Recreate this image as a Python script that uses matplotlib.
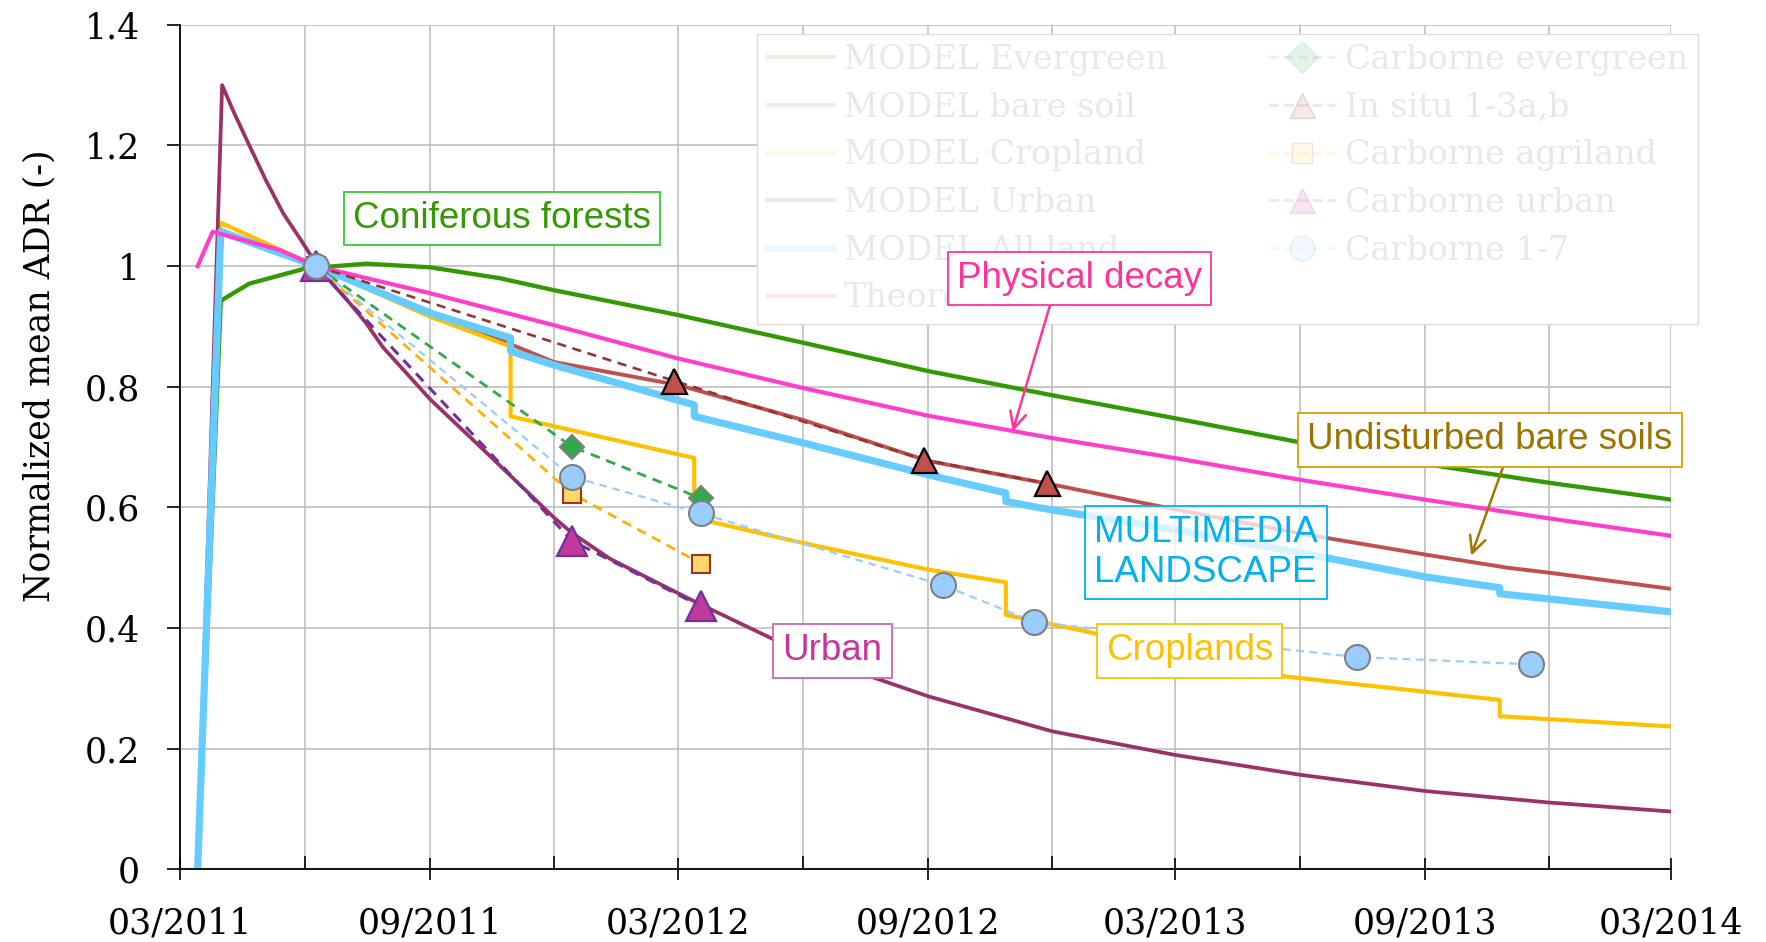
import numpy as np
import matplotlib
matplotlib.use('Agg')
import matplotlib.pyplot as plt
import matplotlib.dates as mdates
from matplotlib.lines import Line2D
from matplotlib.ticker import FuncFormatter

# ---- MODEL curves ----
theo_dates = ['2011-03-14', '2011-03-25', '2011-05-13', '2011-06-09', '2011-09-01', '2011-12-01',
              '2012-03-01', '2012-06-01', '2012-09-01', '2012-12-01', '2013-03-01', '2013-06-01',
              '2013-09-01', '2013-12-01', '2014-03-01']
theo_vals = [1.0, 1.057, 1.027, 1.0, 0.955, 0.902, 0.847, 0.798, 0.752, 0.715, 0.682, 0.646,
             0.613, 0.582, 0.553]

ever_dates = ['2011-03-14', '2011-03-31', '2011-04-01', '2011-04-21', '2011-06-01', '2011-07-16',
              '2011-09-01', '2011-10-22', '2011-12-01', '2012-03-01', '2012-06-01', '2012-09-01',
              '2012-12-01', '2013-03-01', '2013-06-01', '2013-09-01', '2013-12-01', '2014-03-01']
ever_vals = [0.0, 0.94, 0.944, 0.971, 0.996, 1.004, 0.998, 0.98, 0.96, 0.919, 0.873, 0.826,
             0.786, 0.748, 0.708, 0.672, 0.641, 0.613]

urban_dates = ['2011-03-14', '2011-04-01', '2011-04-09', '2011-04-21', '2011-05-03', '2011-05-16',
               '2011-05-29', '2011-06-09', '2011-06-21', '2011-07-04', '2011-07-16', '2011-07-28',
               '2011-09-01', '2011-10-08', '2011-11-14', '2011-12-01', '2011-12-14', '2012-01-11',
               '2012-03-01', '2012-03-17', '2012-06-01', '2012-09-01', '2012-12-01', '2013-03-01',
               '2013-06-01', '2013-09-01', '2013-12-01', '2014-03-01']
urban_vals = [0.0, 1.30, 1.258, 1.20, 1.143, 1.087, 1.043, 1.004, 0.971, 0.938, 0.905, 0.866,
              0.779, 0.70, 0.62, 0.583, 0.558, 0.515, 0.458, 0.44, 0.358, 0.287, 0.229, 0.19,
              0.157, 0.13, 0.111, 0.096]

bare_dates = ['2011-03-14', '2011-03-31', '2011-06-09', '2011-09-01', '2011-12-01', '2012-03-01',
              '2012-06-01', '2012-09-01', '2012-12-01', '2013-03-01', '2013-06-01', '2013-09-01',
              '2013-11-01', '2013-12-01', '2014-03-01']
bare_vals = [0.0, 1.06, 1.0, 0.925, 0.841, 0.803, 0.745, 0.677, 0.638, 0.597, 0.557, 0.522,
             0.5, 0.492, 0.465]

crop_dates = ['2011-03-14', '2011-03-31', '2011-06-09', '2011-09-01', '2011-10-30', '2011-10-30',
              '2012-03-13', '2012-03-13', '2012-03-18', '2012-06-01', '2012-09-01', '2012-10-28',
              '2012-10-28', '2012-12-23', '2013-05-21', '2013-10-26', '2013-10-26', '2014-03-01']
crop_vals = [0.0, 1.072, 1.0, 0.916, 0.867, 0.751, 0.682, 0.582, 0.58, 0.541, 0.497, 0.476,
             0.422, 0.396, 0.32, 0.281, 0.254, 0.237]

all_dates = ['2011-03-14', '2011-03-31', '2011-06-09', '2011-09-01', '2011-10-30', '2011-10-30',
             '2011-12-01', '2012-03-13', '2012-03-13', '2012-06-01', '2012-09-01', '2012-10-28',
             '2012-10-28', '2012-11-23', '2013-03-01', '2013-06-01', '2013-09-01', '2013-10-26',
             '2013-10-26', '2014-03-01']
all_vals = [0.0, 1.057, 1.0, 0.922, 0.881, 0.859, 0.836, 0.770, 0.751, 0.707, 0.654, 0.624,
            0.61, 0.599, 0.563, 0.525, 0.485, 0.467, 0.457, 0.427]

# ---- measurements ----
cb_dates = ['2011-06-09', '2011-12-14', '2012-03-18']
cb_ever_vals = [1.0, 0.701, 0.615]
cb_agri_vals = [1.0, 0.623, 0.507]
cb_urban_vals = [1.0, 0.545, 0.436]

insitu_dates = ['2011-06-09', '2012-02-27', '2012-08-29', '2012-11-27']
insitu_vals = [1.0, 0.81, 0.679, 0.64]

cb17_dates = ['2011-06-09', '2011-12-14', '2012-03-18', '2012-09-12', '2012-11-18',
              '2013-07-13', '2013-11-18']
cb17_vals = [1.0, 0.651, 0.59, 0.471, 0.41, 0.352, 0.34]


def dt(lst):
    return np.array(lst, dtype='datetime64[D]')


plt.rcParams['font.family'] = 'DejaVu Serif'

fig = plt.figure(figsize=(17.66, 9.42), dpi=100)
ax = fig.add_axes([0.1019, 0.0770, 0.8444, 0.8967])

ax.plot(dt(ever_dates), ever_vals, color='#339900', lw=3.1, zorder=3)
ax.plot(dt(bare_dates), bare_vals, color='#C0504D', lw=2.8, zorder=3)
ax.plot(dt(crop_dates), crop_vals, color='#FFC000', lw=3.0, zorder=3)
ax.plot(dt(urban_dates), urban_vals, color='#993366', lw=2.7, zorder=3)
ax.plot(dt(all_dates), all_vals, color='#66CCFF', lw=5.2, zorder=4)
ax.plot(dt(theo_dates), theo_vals, color='#FF3FCC', lw=3.0, zorder=4)

dash = (3.5, 2.5)
ax.plot(dt(cb_dates), cb_ever_vals, color='#2EAA48', lw=2, ls='--', dashes=dash,
        marker='D', ms=12.5, mfc='#2EAA48', mec='#7F7F7F', mew=1.5, zorder=5)
ax.plot(dt(insitu_dates), insitu_vals, color='#943634', lw=1.9, ls='--', dashes=dash,
        marker='^', ms=18, mfc='#C0504D', mec='black', mew=1.6, zorder=5)
ax.plot(dt(cb_dates), cb_agri_vals, color='#FFB000', lw=2, ls='--', dashes=dash,
        marker='s', ms=13, mfc='#FFD966', mec='#A0302A', mew=1.5, zorder=5)
ax.plot(dt(cb_dates), cb_urban_vals, color='#7030A0', lw=2.2, ls='--', dashes=dash,
        marker='^', ms=21, mfc='#C0399B', mec='#7030A0', mew=1.6, zorder=5)
ax.plot(dt(cb17_dates), cb17_vals, color='#99CCFF', lw=1.6, ls='--', dashes=dash,
        marker='o', ms=18, mfc='#99CCFF', mec='#7F7F7F', mew=1.5, zorder=6)

# axes
ax.set_xlim(np.datetime64('2011-03-01'), np.datetime64('2014-03-01'))
ax.set_ylim(0, 1.4)
ax.xaxis.set_major_locator(mdates.MonthLocator(bymonth=[3, 9]))
ax.xaxis.set_minor_locator(mdates.MonthLocator(bymonth=[6, 12]))
ax.xaxis.set_major_formatter(mdates.DateFormatter('%m/%Y'))
ax.set_yticks(np.arange(0, 1.41, 0.2))
ax.yaxis.set_major_formatter(FuncFormatter(lambda v, p: '{:g}'.format(round(v, 1))))

ax.grid(which='major', color='#BFBFBF', lw=1.2)
ax.grid(which='minor', axis='x', color='#BFBFBF', lw=1.2)
ax.set_axisbelow(True)
for s in ['top', 'right']:
    ax.spines[s].set_visible(False)
for s in ['left', 'bottom']:
    ax.spines[s].set_linewidth(1.3)
    ax.spines[s].set_zorder(7)

ax.tick_params(axis='y', direction='out', length=9.5, width=1.2, labelsize=25, pad=19)
ax.tick_params(axis='x', which='major', direction='inout', length=16, width=1.2,
               labelsize=25, pad=19)
ax.tick_params(axis='x', which='minor', direction='in', length=9.5, width=1.2)
ax.set_ylabel('Normalized mean ADR (-)', fontsize=25)
ax.yaxis.set_label_coords(-0.083, 0.585)

# faded legend
fade = 0.12
handles = [
    Line2D([], [], color='#339900', lw=2.9, alpha=fade),
    Line2D([], [], color='#C0504D', lw=2.9, alpha=fade),
    Line2D([], [], color='#FFC000', lw=2.9, alpha=fade),
    Line2D([], [], color='#993366', lw=2.9, alpha=fade),
    Line2D([], [], color='#66CCFF', lw=5, alpha=fade),
    Line2D([], [], color='#FF3FCC', lw=2.9, alpha=fade),
    Line2D([], [], color='#2EAA48', lw=2, ls='--', marker='D', ms=16, mfc='#2EAA48',
           mec='#7F7F7F', alpha=fade),
    Line2D([], [], color='#943634', lw=2, ls='--', marker='^', ms=18, mfc='#C0504D',
           mec='black', alpha=fade),
    Line2D([], [], color='#FFB000', lw=2, ls='--', marker='s', ms=14, mfc='#FFD966',
           mec='#A0302A', alpha=fade),
    Line2D([], [], color='#7030A0', lw=2, ls='--', marker='^', ms=18, mfc='#C0399B',
           mec='#7030A0', alpha=fade),
    Line2D([], [], color='#99CCFF', lw=2, ls='--', marker='o', ms=18, mfc='#99CCFF',
           mec='#7F7F7F', alpha=fade),
]
labels = ['MODEL Evergreen', 'MODEL bare soil', 'MODEL Cropland', 'MODEL Urban',
          'MODEL All land', 'Theoretical', 'Carborne evergreen', 'In situ 1-3a,b',
          'Carborne agriland', 'Carborne urban', 'Carborne 1-7']
leg = ax.legend(handles, labels, ncol=2, loc='upper left',
                bbox_to_anchor=(0.387, 0.647, 0.631, 0.342), mode='expand', borderaxespad=0,
                fontsize=24, labelspacing=0.47, borderpad=0.3, handlelength=2.0,
                handletextpad=0.3, columnspacing=1.5, fancybox=False, framealpha=1,
                edgecolor='#DDDDDD', numpoints=1)
leg.set_zorder(8)
for t in leg.get_texts():
    t.set_color('#E8E8E8')

# annotation boxes
box_font = 'Liberation Sans'
fs = 26.5


def box(ec, fc='white', alpha=1.0):
    return dict(boxstyle='square,pad=0.25', fc=fc, ec=ec, lw=1.3, alpha=alpha)


ax.text(0.216, 0.7707, 'Coniferous forests', transform=ax.transAxes, ha='center', va='center',
        family=box_font, fontsize=fs, color='#339900', bbox=box('#33CC33'), zorder=9)

ax.annotate('Physical decay', xy=(np.datetime64('2012-11-02'), 0.726),
            xytext=(0.6033, 0.6993), textcoords='axes fraction', ha='center', va='center',
            family=box_font, fontsize=fs, color='#FF3399', bbox=box('#FF3399'), zorder=9,
            arrowprops=dict(arrowstyle='->,head_length=0.45,head_width=0.22', color='#FF3399',
                            lw=1.8, relpos=(0.39, 0.0), shrinkA=0, shrinkB=0))

ax.annotate('Undisturbed bare soils', xy=(np.datetime64('2013-10-05'), 0.52),
            xytext=(0.8783, 0.5085), textcoords='axes fraction', ha='center', va='center',
            family=box_font, fontsize=fs, color='#9C7300', bbox=box('#D4A000'), zorder=9,
            arrowprops=dict(arrowstyle='->,head_length=0.45,head_width=0.22', color='#A07800',
                            lw=1.8, relpos=(0.546, 0.0), shrinkA=0, shrinkB=0))

ax.text(0.688, 0.3753, 'MULTIMEDIA\nLANDSCAPE', transform=ax.transAxes, ha='center',
        va='center', multialignment='left', linespacing=1.2, family=box_font, fontsize=fs,
        color='#00B0F0', bbox=dict(boxstyle='square,pad=0.25', fc=(1, 1, 1, 0.75),
                                   ec='#00B0F0', lw=1.3), zorder=9)

ax.text(0.677, 0.2587, 'Croplands', transform=ax.transAxes, ha='center', va='center',
        family=box_font, fontsize=fs, color='#FFC000', bbox=box('#FFC000'), zorder=9)

ax.text(0.4376, 0.2587, 'Urban', transform=ax.transAxes, ha='center', va='center',
        family=box_font, fontsize=fs, color='#CC3399', bbox=box('#CC66B2'), zorder=9)

fig.savefig('out.png', dpi=100)
